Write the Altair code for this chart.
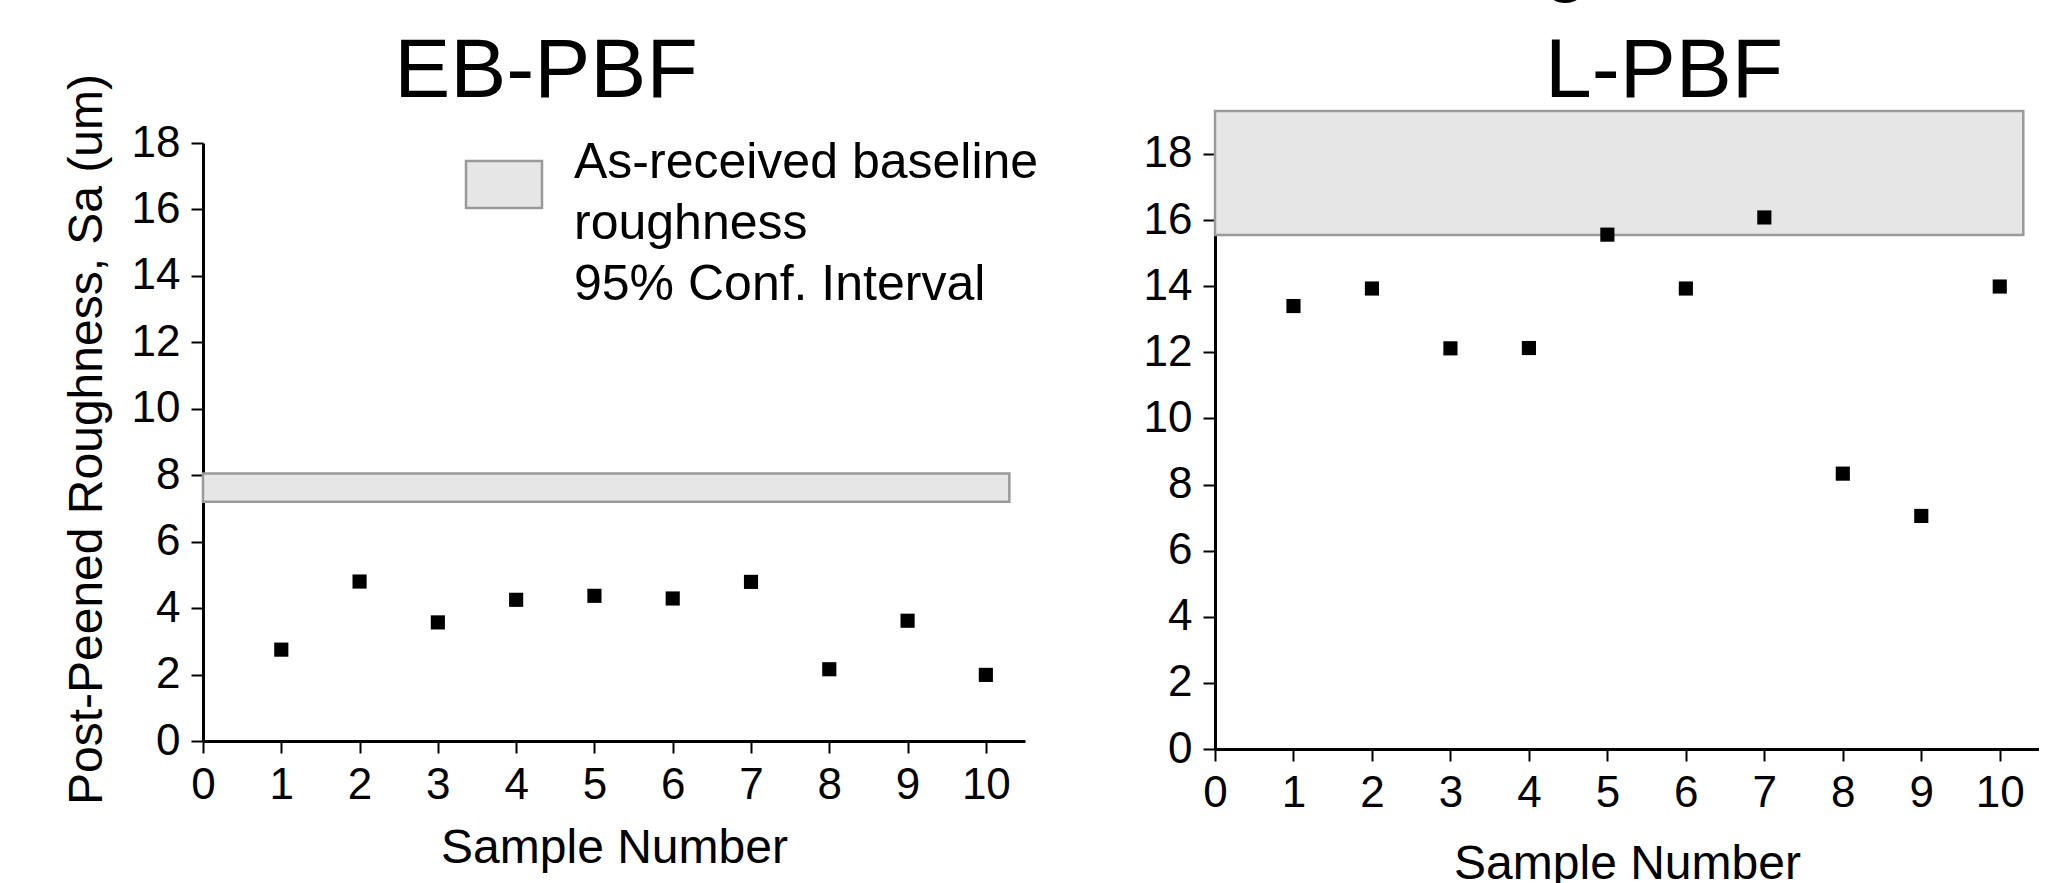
import altair as alt
import pandas as pd

samples = list(range(1, 11))
eb_sa = [2.75, 4.80, 3.57, 4.25, 4.37, 4.29, 4.79, 2.16, 3.62, 1.99]
lpbf_sa = [13.40, 13.93, 12.12, 12.13, 15.56, 13.93, 16.08, 8.33, 7.05, 13.99]
eb_ci = [7.2, 8.05]
lpbf_ci = [15.55, 19.3]
x_ticks = list(range(0, 11))
y_ticks = list(range(0, 19, 2))
legend_lines = ["As-received baseline", "roughness", "95% Conf. Interval"]
figure_title = "Roughness"  # overall figure title, cut off at the top edge in the source image

FONT = "Liberation Sans"
BAND_X_END = 10.3

eb_df = pd.DataFrame({"sample": samples, "sa": eb_sa})
lp_df = pd.DataFrame({"sample": samples, "sa": lpbf_sa})
eb_band = pd.DataFrame({"x0": [0], "x1": [BAND_X_END], "lo": [eb_ci[0]], "hi": [eb_ci[1]]})
lp_band = pd.DataFrame({"x0": [0], "x1": [BAND_X_END], "lo": [lpbf_ci[0]], "hi": [lpbf_ci[1]]})
one = alt.Data(values=[{"k": 1}])


def panel(df, band, title, ydomain, yrange, height, width, ytitle, xtitle_y, title_x, legend, big):
    xs = alt.Scale(domain=[0, 10.5], nice=False, zero=False)
    ys = alt.Scale(domain=ydomain, nice=False, zero=False, range=yrange)
    xaxis = alt.Axis(values=x_ticks, format="d", labelOverlap=False, labelFlush=False,
                     title="Sample Number", labelPadding=10, titleBaseline="alphabetic",
                     titleY=xtitle_y)
    if ytitle:
        yaxis = alt.Axis(values=y_ticks, format="d", labelOverlap=False, labelFlush=False,
                         title=ytitle, labelPadding=11, titleAngle=270,
                         titleBaseline="alphabetic", titleX=-102, titleY=328,
                         titleAlign="center")
    else:
        yaxis = alt.Axis(values=y_ticks, format="d", labelOverlap=False, labelFlush=False,
                         title=None, labelPadding=11)
    rect = alt.Chart(band).mark_rect(fill="#e6e6e6", stroke="#9a9a9a", strokeWidth=2.5).encode(
        x=alt.X("x0:Q", scale=xs, axis=xaxis),
        x2="x1:Q",
        y=alt.Y("lo:Q", scale=ys, axis=yaxis),
        y2="hi:Q",
    )
    pts = alt.Chart(df).mark_point(shape="square", filled=True, color="black", size=200, opacity=1).encode(
        x=alt.X("sample:Q", scale=xs),
        y=alt.Y("sa:Q", scale=ys),
    )
    ttl = alt.Chart(one).mark_text(
        text=title, align="center", baseline="alphabetic", fontSize=84, font=FONT, color="black"
    ).encode(x=alt.value(title_x), y=alt.value(-14))
    layers = [rect, pts, ttl]
    if legend:
        box = alt.Chart(one).mark_rect(fill="#e6e6e6", stroke="#9a9a9a", strokeWidth=2.5).encode(
            x=alt.value(263), x2=alt.value(339), y=alt.value(50), y2=alt.value(97)
        )
        txt = alt.Chart(one).mark_text(
            text=legend_lines, align="left", baseline="alphabetic", fontSize=50,
            lineHeight=61, font=FONT, color="black"
        ).encode(x=alt.value(371), y=alt.value(67))
        layers += [box, txt]
    if big:
        bt = alt.Chart(one).mark_text(
            text=figure_title, align="left", baseline="alphabetic", fontSize=80,
            font=FONT, color="black"
        ).encode(x=alt.value(182), y=alt.value(-125))
        layers += [bt]
    return alt.layer(*layers).properties(width=width, height=height)


left = panel(eb_df, eb_band, "EB-PBF", [0, 18], [630, 32], 630, 822,
             "Post-Peened Roughness, Sa (um)", 121, 343, True, False)
right = panel(lp_df, lp_band, "L-PBF", [0, 19.3], [638, 0], 638, 824,
              None, 129, 449, False, True)

chart = alt.hconcat(left, right, spacing=190, bounds="flush").properties(
    padding={"left": 62, "top": -78, "right": 0, "bottom": 0}
).configure(font=FONT).configure_view(stroke=None).configure_axis(
    grid=False, domainColor="black", domainWidth=3, tickColor="black", tickWidth=2,
    tickSize=12, labelFontSize=44, titleFontSize=48, labelColor="black", titleColor="black",
    titleFontWeight="normal", labelFont=FONT, titleFont=FONT,
)

chart.save("out.html", embed_options={"renderer": "svg", "actions": False})
